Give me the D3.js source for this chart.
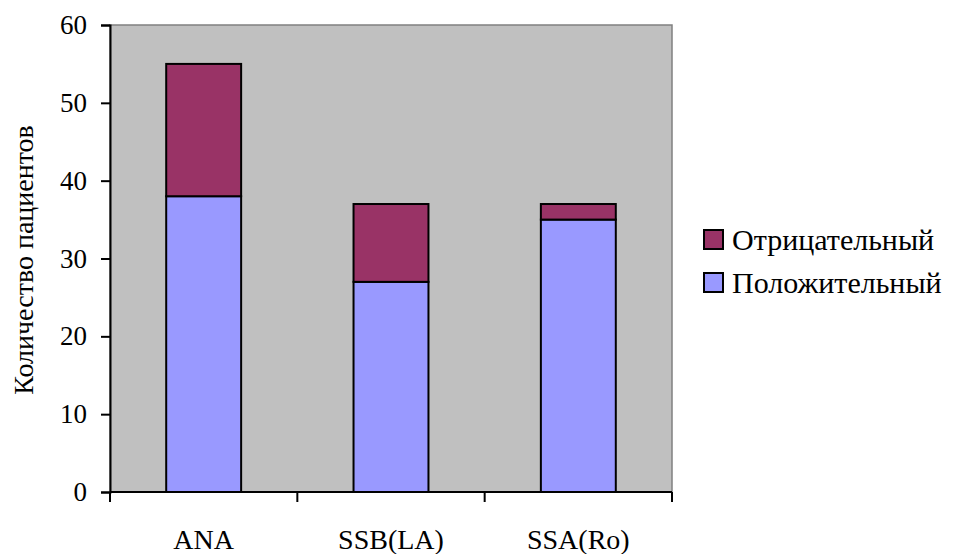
<!DOCTYPE html>
<html><head><meta charset="utf-8">
<script src="https://cdn.jsdelivr.net/npm/d3@7"></script>
</head><body style="margin:0">
<svg id="c" width="958" height="554"></svg>
<script>
const categories = ["ANA", "SSB(LA)", "SSA(Ro)"];
const positive = [38, 27, 35];
const negative = [17, 10, 2];
const yTicks = [0, 10, 20, 30, 40, 50, 60];
const seriesNames = ["Отрицательный", "Положительный"];
const yTitle = "Количество пациентов";
const colors = {pos: "#9999FF", neg: "#993366"};
const FF = "Liberation Serif";

const svg = d3.select("#c");
const L = 110, R = 672, T = 25, B = 492;
const x = d3.scaleBand().domain(categories).range([L, R]).paddingInner(0.6).paddingOuter(0.3);
const y = d3.scaleLinear().domain([0, 60]).range([B, T]);

svg.append("rect").attr("x", L).attr("y", T).attr("width", R - L).attr("height", B - T)
  .attr("fill", "#C0C0C0").attr("stroke", "#808080").attr("stroke-width", 1.5);

const data = categories.map((c, i) => ({c, pos: positive[i], neg: negative[i]}));
const g = svg.append("g");
g.selectAll(".p").data(data).join("rect")
  .attr("x", d => x(d.c)).attr("width", x.bandwidth())
  .attr("y", d => y(d.pos)).attr("height", d => y(0) - y(d.pos))
  .attr("fill", colors.pos).attr("stroke", "#000").attr("stroke-width", 2);
g.selectAll(".n").data(data).join("rect")
  .attr("x", d => x(d.c)).attr("width", x.bandwidth())
  .attr("y", d => y(d.pos + d.neg)).attr("height", d => y(d.pos) - y(d.pos + d.neg))
  .attr("fill", colors.neg).attr("stroke", "#000").attr("stroke-width", 2);

const yAxis = svg.append("g").attr("transform", `translate(${L},0)`)
  .call(d3.axisLeft(y).tickValues(yTicks).tickSize(9).tickPadding(14));
yAxis.attr("font-family", FF).attr("font-size", 27);
yAxis.select(".domain").attr("stroke", "#000").attr("stroke-width", 2);
yAxis.selectAll(".tick line").attr("stroke", "#000").attr("stroke-width", 2);
yAxis.selectAll("text").attr("font-size", 27).attr("fill", "#000").attr("font-family", FF);

const xAxisG = svg.append("g");
xAxisG.append("line").attr("x1", L).attr("x2", R).attr("y1", B).attr("y2", B)
  .attr("stroke", "#000").attr("stroke-width", 2);
const step = (R - L) / categories.length;
d3.range(categories.length + 1).forEach(i => {
  xAxisG.append("line").attr("x1", L + i * step).attr("x2", L + i * step)
    .attr("y1", B).attr("y2", B + 10).attr("stroke", "#000").attr("stroke-width", 2);
});
xAxisG.selectAll("text").data(categories).join("text")
  .attr("x", d => x(d) + x.bandwidth() / 2).attr("y", 549)
  .attr("text-anchor", "middle").attr("font-size", 28).attr("font-family", FF).text(d => d);

svg.append("text").attr("transform", "translate(33,260) rotate(-90)")
  .attr("text-anchor", "middle").attr("font-size", 28).attr("font-family", FF).text(yTitle);

const leg = svg.append("g");
const legY = [240, 283];
const legC = [colors.neg, colors.pos];
seriesNames.forEach((s, i) => {
  leg.append("rect").attr("x", 704).attr("y", legY[i] - 10).attr("width", 19).attr("height", 19)
    .attr("fill", legC[i]).attr("stroke", "#000").attr("stroke-width", 2);
  leg.append("text").attr("x", 732).attr("y", legY[i] + 10).attr("font-size", 30)
    .attr("font-family", FF).text(s);
});
</script></body></html>
